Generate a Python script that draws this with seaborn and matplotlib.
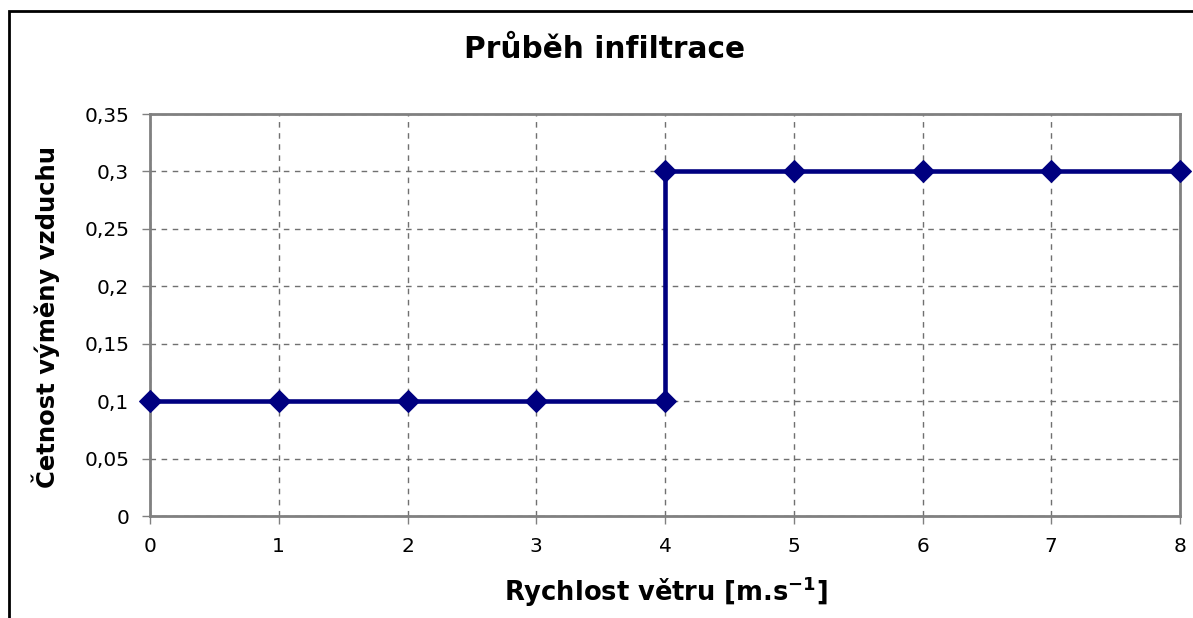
import matplotlib
matplotlib.use("Agg")
import matplotlib.pyplot as plt
import seaborn as sns
import pandas as pd
from matplotlib.patches import Rectangle

wind_speed = [0, 1, 2, 3, 4, 4, 5, 6, 7, 8]
air_change = [0.1, 0.1, 0.1, 0.1, 0.1, 0.3, 0.3, 0.3, 0.3, 0.3]
y_ticks = [0, 0.05, 0.1, 0.15, 0.2, 0.25, 0.3, 0.35]
y_tick_labels = ["0", "0,05", "0,1", "0,15", "0,2", "0,25", "0,3", "0,35"]
x_ticks = [0, 1, 2, 3, 4, 5, 6, 7, 8]

sns.set_theme(style="white")
plt.rcParams['font.family'] = ['DejaVu Sans']
plt.rcParams['text.color'] = 'black'

df = pd.DataFrame({"x": wind_speed, "y": air_change})

fig = plt.figure(figsize=(11.93, 6.18), dpi=100)
ax = fig.add_axes([150/1193, 1-516/618, (1180-150)/1193, (516-114)/618])

sns.lineplot(data=df, x="x", y="y", estimator=None, sort=False, ax=ax,
             color="#000080", linewidth=3.3, marker="D", markersize=11,
             markeredgecolor="#000080", clip_on=False, zorder=5)

ax.set_xlim(0, 8)
ax.set_ylim(0, 0.35)
ax.set_xticks(x_ticks)
ax.set_xticklabels([str(v) for v in x_ticks])
ax.set_yticks(y_ticks)
ax.set_yticklabels(y_tick_labels)
ax.grid(True, linestyle=(0, (4, 4)), color="#707070", linewidth=1)
for s in ax.spines.values():
    s.set_color("#808080")
    s.set_linewidth(2)
ax.tick_params(axis="both", which="both", direction="out", length=6, width=1,
               color="#808080", labelsize=14.5, labelcolor="black", bottom=True, left=True, pad=9)
ax.set_xlabel("")
ax.set_ylabel("")

fig.text(605/1193, 1-49/618, "Průběh infiltrace", ha="center", va="center",
         fontsize=21.3, fontweight="bold", color="black")
fig.text(666/1193, 1-592/618, "Rychlost větru [m.s$^{\\mathregular{-1}}$]", ha="center", va="center",
         fontsize=18.5, fontweight="bold", color="black")
fig.text(46/1193, 1-317/618, "Četnost výměny vzduchu", ha="center", va="center",
         fontsize=17.5, fontweight="bold", rotation=90, color="black")

fig.patches.append(Rectangle((8.5/1193, -0.5), 2.0, 1 - 11/618 + 0.5, transform=fig.transFigure,
                             fill=False, edgecolor="black", linewidth=2))

fig.savefig("out.png", dpi=100)
